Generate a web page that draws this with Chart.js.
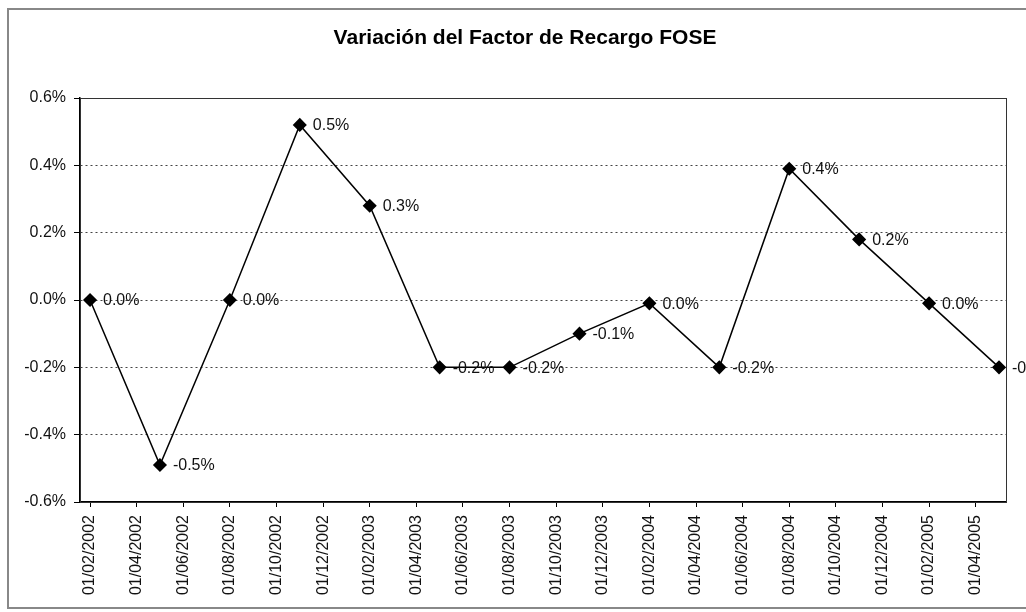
<!DOCTYPE html>
<html>
<head>
<meta charset="utf-8">
<title>Variación del Factor de Recargo FOSE</title>
<script src="https://cdn.jsdelivr.net/npm/chart.js@4.4.1/dist/chart.umd.min.js"></script>
<style>
  html, body { margin: 0; padding: 0; background: #fff; }
  canvas { display: block; }
</style>
</head>
<body>
<canvas id="grafico" width="1026" height="612"></canvas>
<script>
// DATOS
const titulo = 'Variación del Factor de Recargo FOSE';
const fechas = ['01/02/2002', '01/05/2002', '01/08/2002', '01/11/2002', '01/02/2003', '01/05/2003', '01/08/2003',
                '01/11/2003', '01/02/2004', '01/05/2004', '01/08/2004', '01/11/2004', '01/02/2005', '01/05/2005'];
const variacion = [0.0, -0.49, 0.0, 0.52, 0.28, -0.2, -0.2, -0.1, -0.01, -0.2, 0.39, 0.18, -0.01, -0.2];
const etiquetasX = ['01/02/2002', '01/04/2002', '01/06/2002', '01/08/2002', '01/10/2002', '01/12/2002',
                    '01/02/2003', '01/04/2003', '01/06/2003', '01/08/2003', '01/10/2003', '01/12/2003',
                    '01/02/2004', '01/04/2004', '01/06/2004', '01/08/2004', '01/10/2004', '01/12/2004',
                    '01/02/2005', '01/04/2005'];
const ticksY = [-0.6, -0.4, -0.2, 0.0, 0.2, 0.4, 0.6];

const FUENTE = '"Liberation Sans", Arial, sans-serif';

// meses desde 01/02/2002
function mesIndice(f) {
  const p = f.split('/');
  return (parseInt(p[2]) - 2002) * 12 + (parseInt(p[1]) - 2);
}

function pct(v) {
  let s = v.toFixed(1);
  if (s === '-0.0') s = '0.0';
  return s + '%';
}

// fondo, marco exterior, titulo y borde del area
const fondo = {
  id: 'fondo',
  beforeDraw(chart) {
    const c = chart.ctx;
    c.save();
    c.fillStyle = '#fff';
    c.fillRect(0, 0, chart.width, chart.height);
    c.strokeStyle = '#888';
    c.lineWidth = 2;
    c.strokeRect(8, 9, 1030, 599);
    c.font = 'bold 21px ' + FUENTE;
    c.fillStyle = '#000';
    c.textAlign = 'center';
    c.textBaseline = 'middle';
    c.fillText(titulo, 525, 38);
    c.restore();
  },
  afterDraw(chart) {
    const a = chart.chartArea;
    const c = chart.ctx;
    c.save();
    c.strokeStyle = '#333';
    c.lineWidth = 1;
    c.strokeRect(a.left + 0.5, a.top + 0.5, a.right - a.left, a.bottom - a.top);
    c.restore();
  }
};

// etiquetas de datos
const etiquetas = {
  id: 'etiquetas',
  afterDatasetsDraw(chart) {
    const c = chart.ctx;
    const meta = chart.getDatasetMeta(0);
    c.save();
    c.font = '16px ' + FUENTE;
    c.fillStyle = '#111';
    c.textBaseline = 'middle';
    c.textAlign = 'left';
    meta.data.forEach(function (p, i) {
      c.fillText(pct(variacion[i]), p.x + 13, p.y + 1);
    });
    c.restore();
  }
};

const ctx = document.getElementById('grafico');

new Chart(ctx, {
  type: 'line',
  data: {
    datasets: [{
      label: 'Variación',
      data: fechas.map(function (f, i) { return { x: mesIndice(f), y: variacion[i] }; }),
      borderColor: '#000',
      backgroundColor: '#000',
      borderWidth: 1.5,
      pointStyle: 'rectRot',
      pointRadius: 6,
      pointBackgroundColor: '#000',
      pointBorderColor: '#000',
      tension: 0
    }]
  },
  options: {
    responsive: false,
    animation: false,
    layout: { padding: { left: 0, right: 20, top: 98, bottom: 0 } },
    plugins: {
      legend: { display: false },
      tooltip: { enabled: false },
      title: { display: false }
    },
    scales: {
      x: {
        type: 'linear',
        min: -0.43,
        max: 39.3,
        afterFit: function (s) { s.height = 110; },
        afterBuildTicks: function (s) {
          s.ticks = etiquetasX.map(function (e) { return { value: mesIndice(e) }; });
        },
        ticks: {
          autoSkip: false,
          minRotation: 90,
          maxRotation: 90,
          padding: 8,
          color: '#111',
          font: { family: FUENTE, size: 16 },
          callback: function (v, i) { return etiquetasX[i]; }
        },
        grid: {
          display: true,
          drawOnChartArea: false,
          tickLength: 5,
          color: '#000'
        },
        border: { display: true, color: '#000', width: 1.5 }
      },
      y: {
        min: -0.6,
        max: 0.6,
        afterFit: function (s) { s.width = 80; },
        afterBuildTicks: function (s) {
          s.ticks = ticksY.map(function (v) { return { value: v }; });
        },
        ticks: {
          padding: 8,
          color: '#111',
          font: { family: FUENTE, size: 16 },
          callback: function (v) { return pct(v); }
        },
        grid: {
          color: '#444',
          lineWidth: 1,
          tickLength: 6,
          tickColor: '#000',
          tickBorderDash: []
        },
        border: { display: true, color: '#000', width: 1.5, dash: [2, 3] }
      }
    }
  },
  plugins: [fondo, etiquetas]
});
</script>
</body>
</html>
